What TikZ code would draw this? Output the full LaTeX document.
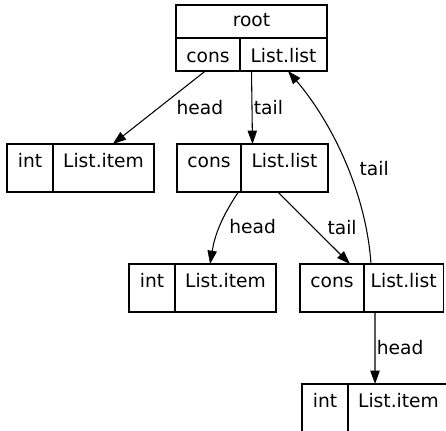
\documentclass[tikz,border=0pt]{standalone}
\usepackage{fontspec}
\setmainfont{DejaVu Sans}
\usetikzlibrary{arrows.meta, positioning}

\begin{document}
\begin{tikzpicture}[
    x=0.75pt, y=-0.75pt,
    font=\fontsize{14}{16}\selectfont,
    field/.style={draw, line width=0.8pt, inner sep=0pt, outer sep=0pt, text height=17.25pt, text depth=18.75pt},
    headrow/.style={field, text height=16.5pt, text depth=8.25pt},
    linkrow/.style={field, text height=18.75pt, text depth=6pt},
    intw/.style={minimum width=34.5pt},
    itemw/.style={minimum width=75.75pt},
    consw/.style={minimum width=48pt},
    listw/.style={minimum width=65.25pt},
    edge/.style={-{Triangle[length=10pt, width=7pt]}, line width=0.8pt},
    lbl/.style={inner sep=0pt, anchor=west}
]
\useasboundingbox (0,0) rectangle (446,431);
\clip (0,0) rectangle (446,431);

% root record
\node[headrow, minimum width=113.25pt, anchor=north west] (root) at (176,5) {root};
\node[linkrow, consw, anchor=north west] (rcons) at (root.south west) {cons};
\node[linkrow, listw, right=0pt of rcons] (rlist) {List.list};

% first level
\node[field, intw, anchor=north west] (int1) at (7,144) {int};
\node[field, itemw, right=0pt of int1] (item1) {List.item};
\node[field, consw, anchor=north west] (cons1) at (177,144) {cons};
\node[field, listw, right=0pt of cons1] (list1) {List.list};

% second level
\node[field, intw, anchor=north west] (int2) at (129,264) {int};
\node[field, itemw, right=0pt of int2] (item2) {List.item};
\node[field, consw, anchor=north west] (cons2) at (300,264) {cons};
\node[field, listw, minimum width=59.5pt, right=0pt of cons2] (list2) {List.list};

% last item
\node[field, intw, anchor=north west] (int3) at (302,384) {int};
\node[field, itemw, right=0pt of int3] (item3) {List.item};

% pointers
\draw[edge] ([xshift=-2pt]rcons.south) -- ([xshift=7pt]item1.north) node[lbl, midway, xshift=12.75pt] {head};
\draw[edge] ([xshift=-24pt]rlist.south) -- ([xshift=-24pt]list1.north) node[lbl, midway, xshift=1pt] {tail};
\draw[edge] ([xshift=-2pt]list1.south west) to[bend right=12] node[lbl, midway, xshift=6.75pt] {head} ([xshift=-11.6pt]item2.north);
\draw[edge] ([xshift=-4.9pt]list1.south) -- ([xshift=13.5pt]cons2.north) node[lbl, midway, xshift=9.75pt] {tail};
\draw[edge] ([xshift=-24.5pt]list2.north) .. controls (366,190) and (330,120) .. ([xshift=3.4pt]rlist.south) node[lbl, pos=0.45, xshift=8.5pt] {tail};
\draw[edge] ([xshift=-21.5pt]list2.south) -- ([xshift=-17.6pt]item3.north) node[lbl, midway, xshift=1pt] {head};

\end{tikzpicture}
\end{document}
